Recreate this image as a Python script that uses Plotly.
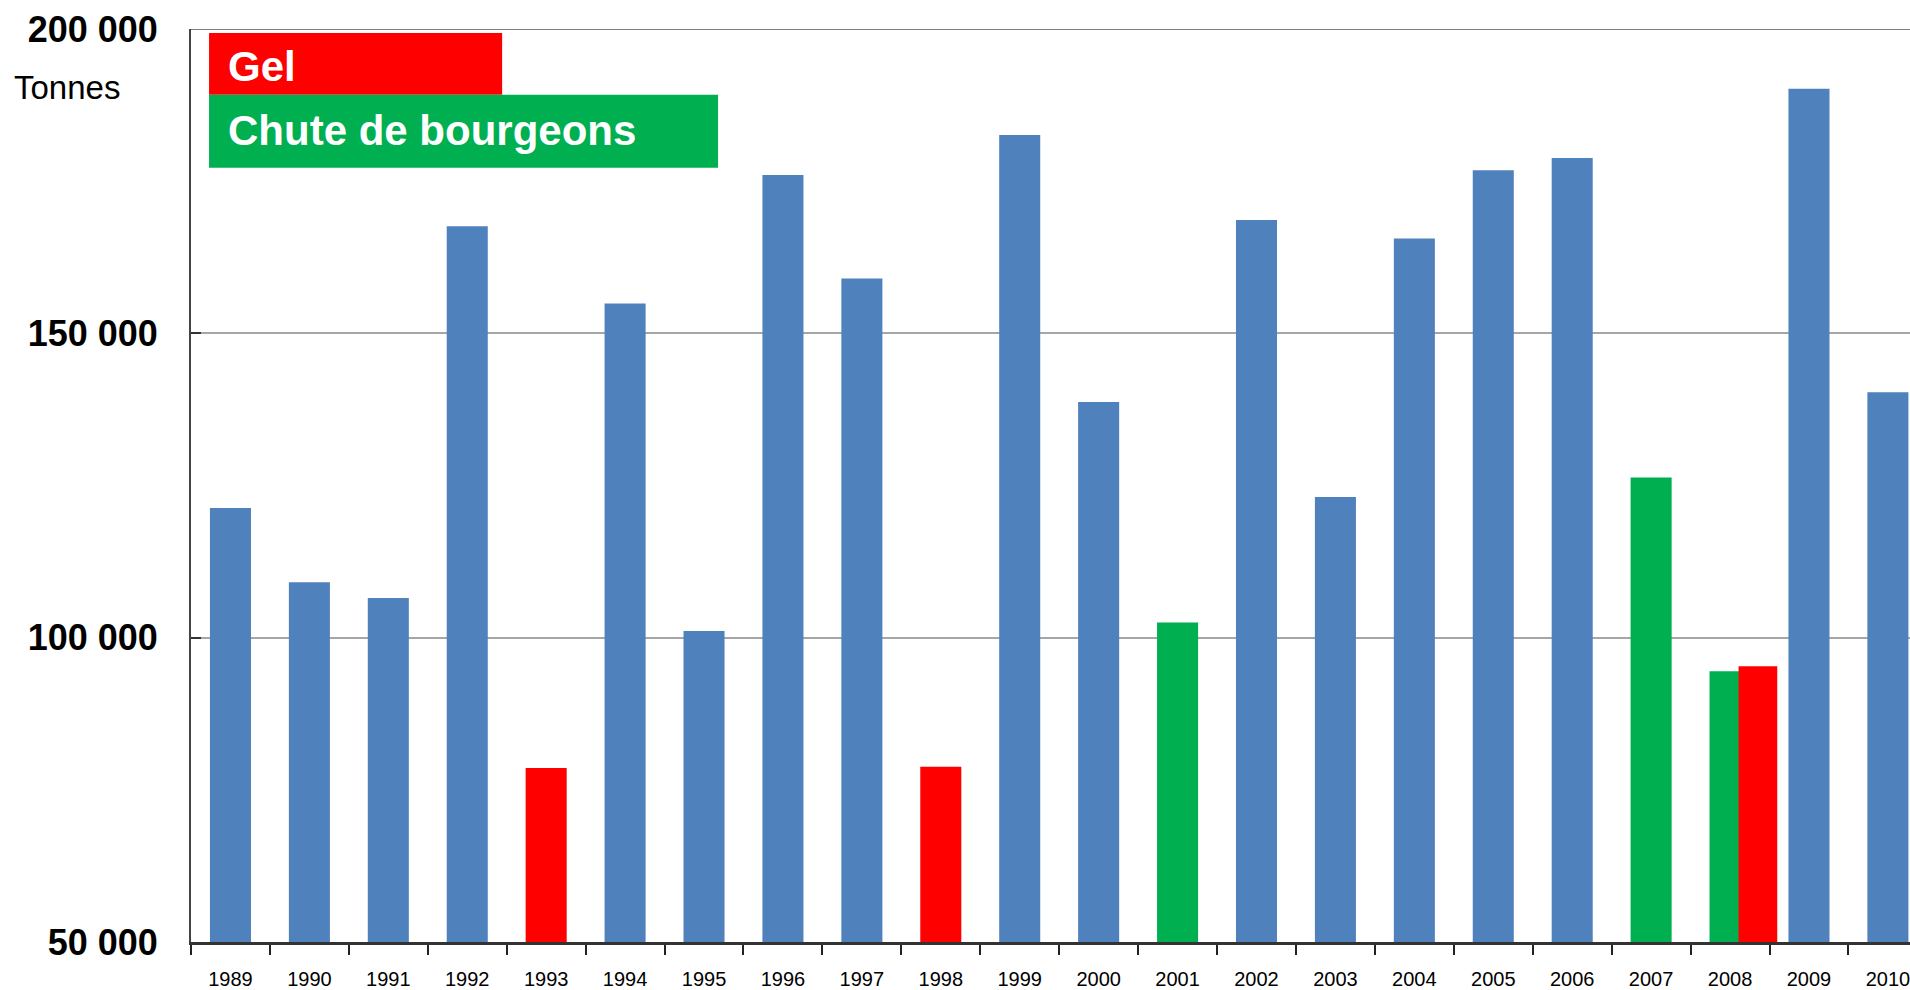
import plotly.graph_objects as go

# Production annuelle (tonnes) et aléa climatique associé
annees = ["1989", "1990", "1991", "1992", "1993", "1994", "1995", "1996", "1997", "1998", "1999",
          "2000", "2001", "2002", "2003", "2004", "2005", "2006", "2007", "2008", "2009", "2010"]
tonnes = [121300, 109100, 106500, 167600, 78600, 154900, 101100, 176000, 159000, 78800, 182600,
          138700, 102500, 168600, 123100, 165600, 176800, 178800, 126300, 94500, 190200, 140300]
evenement = [None, None, None, None, "Gel", None, None, None, None, "Gel", None,
             None, "Chute de bourgeons", None, None, None, None, None, "Chute de bourgeons",
             "Chute de bourgeons", None, None]

# Second aléa la même année (gel en plus de la chute de bourgeons)
annees_gel_bis = ["2008"]
tonnes_gel_bis = [95300]

graduations = [50000, 100000, 150000, 200000]
etiquettes = ["50 000", "100 000", "150 000", "200 000"]

BLEU = "#4F81BD"
ROUGE = "#FF0000"
VERT = "#00B050"
couleurs_evenement = {None: BLEU, "Gel": ROUGE, "Chute de bourgeons": VERT}

fig = go.Figure()

fig.add_trace(go.Bar(
    x=annees, y=tonnes,
    marker=dict(color=[couleurs_evenement[e] for e in evenement], line=dict(width=0)),
    width=0.52, offset=-0.26, showlegend=False,
))
fig.add_trace(go.Bar(
    x=annees_gel_bis, y=tonnes_gel_bis,
    marker=dict(color=ROUGE, line=dict(width=0)),
    width=0.49, offset=0.108, showlegend=False,
))

# Encadrés de légende
fig.add_shape(type="rect", xref="paper", yref="paper", x0=0.0105, x1=0.181, y0=0.928, y1=0.9956,
              fillcolor=ROUGE, line=dict(width=0), layer="above")
fig.add_shape(type="rect", xref="paper", yref="paper", x0=0.0105, x1=0.3066, y0=0.848, y1=0.928,
              fillcolor=VERT, line=dict(width=0), layer="above")
fig.add_annotation(text="<b>Gel</b>", xref="paper", yref="paper", x=0.0205, y=0.9585,
                   xanchor="left", yanchor="middle", showarrow=False,
                   font=dict(family="Liberation Sans", size=42, color="white"))
fig.add_annotation(text="<b>Chute de bourgeons</b>", xref="paper", yref="paper", x=0.0205, y=0.8885,
                   xanchor="left", yanchor="middle", showarrow=False,
                   font=dict(family="Liberation Sans", size=42, color="white"))

# Unité
fig.add_annotation(text="Tonnes", xref="paper", yref="paper", x=-0.104, y=0.9355,
                   xanchor="left", yanchor="middle", showarrow=False,
                   font=dict(family="Liberation Sans", size=33, color="black"))

# Trait supérieur du cadre
fig.add_shape(type="line", xref="paper", yref="y", x0=0, x1=1, y0=200000, y1=200000,
              line=dict(color="#7f7f7f", width=2))

fig.update_layout(
    width=1910, height=990,
    margin=dict(l=191, r=0, t=29, b=46),
    paper_bgcolor="white", plot_bgcolor="white",
    barmode="overlay",
    showlegend=False,
    font=dict(family="Liberation Sans", color="black"),
)

fig.update_xaxes(
    type="category", range=[-0.5, 21.28],
    showline=True, linecolor="#333333", linewidth=3,
    ticks="outside", tickson="boundaries", ticklen=10, tickwidth=2, tickcolor="#222222",
    tickfont=dict(family="Liberation Sans", size=20, color="black"),
    ticklabelstandoff=17,
    showgrid=False, zeroline=False,
)
fig.update_yaxes(
    range=[50000, 200000],
    tickvals=graduations, ticktext=["<b>%s</b>" % t for t in etiquettes],
    tickfont=dict(family="Liberation Sans", size=36, color="black"),
    ticks="inside", ticklen=10, tickwidth=2, tickcolor="#333333",
    ticklabelstandoff=24,
    showline=True, linecolor="#444444", linewidth=2,
    showgrid=True, gridcolor="#a6a6a6", gridwidth=2,
    zeroline=False,
)

fig.write_html("out.html")
